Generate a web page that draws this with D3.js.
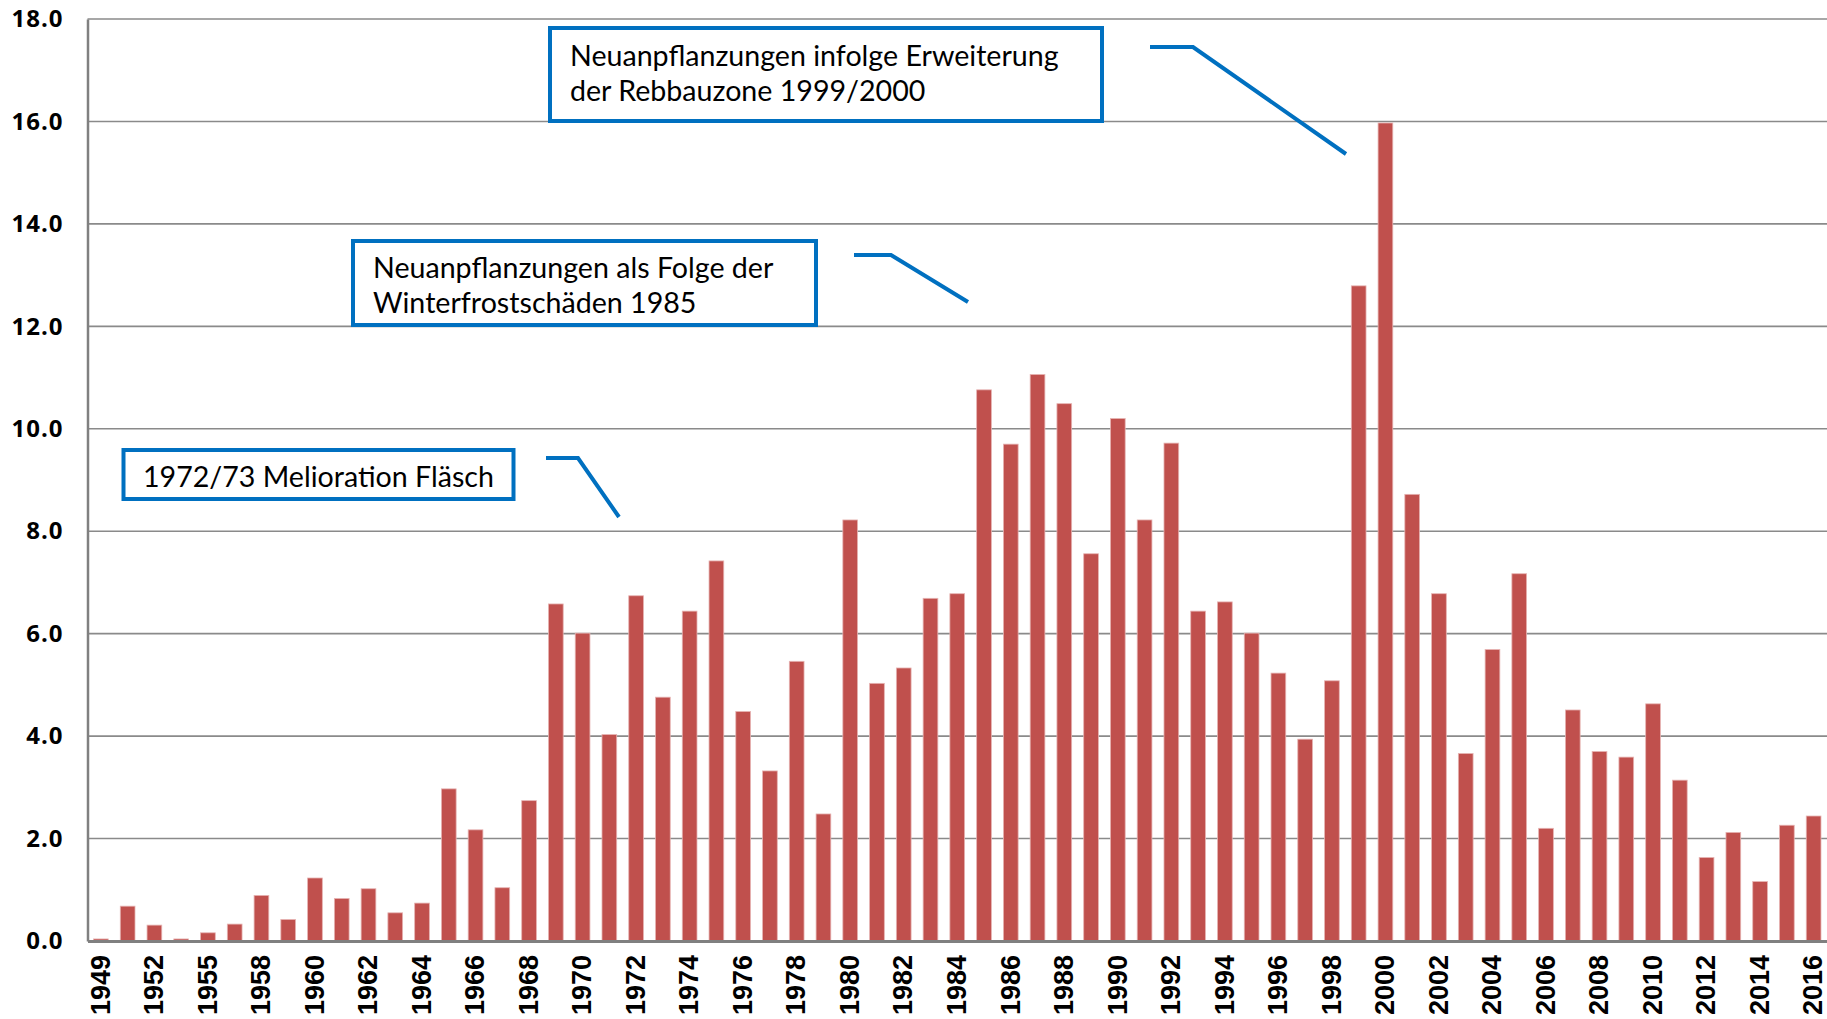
<!DOCTYPE html>
<html>
<head>
<meta charset="utf-8">
<script src="https://cdn.jsdelivr.net/npm/d3@7"></script>
<style>
  body { margin: 0; background: #fff; }
  .note text { font-family: Lato, "Open Sans", sans-serif; font-size: 28.6px; fill: #000; }
</style>
</head>
<body>
<div id="chart"></div>
<script>
// years on the x axis (three early periods have no printed label)
const years = [
  "1949", "1950/51", "1952", "1953/54", "1955", "1956/57",
  "1958", "1959", "1960", "1961", "1962", "1963", "1964", "1965", "1966", "1967",
  "1968", "1969", "1970", "1971", "1972", "1973", "1974", "1975", "1976", "1977",
  "1978", "1979", "1980", "1981", "1982", "1983", "1984", "1985", "1986", "1987",
  "1988", "1989", "1990", "1991", "1992", "1993", "1994", "1995", "1996", "1997",
  "1998", "1999", "2000", "2001", "2002", "2003", "2004", "2005", "2006", "2007",
  "2008", "2009", "2010", "2011", "2012", "2013", "2014", "2015", "2016",
];

// new plantings (ha) per year
const values = [
  0.04, 0.68, 0.31, 0.04, 0.16, 0.33,
  0.89, 0.42, 1.23, 0.83, 1.02, 0.55, 0.74, 2.97, 2.17, 1.04,
  2.74, 6.58, 6.01, 4.03, 6.74, 4.76, 6.44, 7.42, 4.48, 3.32,
  5.46, 2.48, 8.22, 5.03, 5.33, 6.69, 6.78, 10.76, 9.70, 11.06,
  10.49, 7.56, 10.20, 8.22, 9.72, 6.44, 6.62, 6.01, 5.23, 3.94,
  5.08, 12.79, 15.97, 8.72, 6.78, 3.66, 5.69, 7.17, 2.20, 4.51,
  3.70, 3.59, 4.63, 3.14, 1.63, 2.12, 1.16, 2.26, 2.44,
];

const yTicks = [0, 2, 4, 6, 8, 10, 12, 14, 16, 18];

const notes = [
  { lines: ["1972/73 Melioration Fläsch"] },
  { lines: ["Neuanpflanzungen als Folge der", "Winterfrostschäden 1985"] },
  { lines: ["Neuanpflanzungen infolge Erweiterung", "der Rebbauzone 1999/2000"] },
];

const W = 1827, H = 1019;
const margin = { top: 19, right: 0, bottom: 78, left: 87.5 };

const svg = d3.select("#chart").append("svg")
  .attr("width", W)
  .attr("height", H);

const x = d3.scaleBand()
  .domain(years)
  .range([margin.left, W - margin.right])
  .paddingInner(0.45)
  .paddingOuter(0.225);

const y = d3.scaleLinear()
  .domain([0, 18])
  .range([H - margin.bottom, margin.top]);

// grid lines
svg.append("g")
  .selectAll("line")
  .data(yTicks.slice(1))
  .join("line")
  .attr("x1", margin.left)
  .attr("x2", W - margin.right)
  .attr("y1", d => y(d))
  .attr("y2", d => y(d))
  .attr("stroke", "#8a8a8a")
  .attr("stroke-width", 1.6);

// bars
svg.append("g")
  .selectAll("rect")
  .data(values)
  .join("rect")
  .attr("x", (d, i) => x(years[i]))
  .attr("y", d => y(d))
  .attr("width", x.bandwidth())
  .attr("height", d => y(0) - y(d))
  .attr("fill", "#c0504d")
  .attr("stroke", "#e6b3b2")
  .attr("stroke-width", 0.8);

// y axis
const yAxis = svg.append("g")
  .attr("transform", `translate(${margin.left},0)`)
  .call(d3.axisLeft(y).tickValues(yTicks).tickFormat(d3.format(".1f")).tickSize(0).tickPadding(24));
yAxis.select(".domain").attr("stroke", "#808080").attr("stroke-width", 2.5);
yAxis.selectAll("text")
  .style("font-family", "'Open Sans', sans-serif")
  .style("font-weight", 700)
  .style("font-size", "24px")
  .style("letter-spacing", "1px")
  .attr("fill", "#000");

// x axis
const xAxis = svg.append("g")
  .attr("transform", `translate(0,${y(0)})`)
  .call(d3.axisBottom(x)
    .tickValues(years.filter((d, i) => i % 2 === 0))
    .tickSize(0));
xAxis.select(".domain").attr("stroke", "#808080").attr("stroke-width", 3);
xAxis.selectAll("text")
  .attr("transform", "rotate(-90)")
  .attr("x", -14)
  .attr("y", -1)
  .attr("dy", "0.36em")
  .style("text-anchor", "end")
  .style("font-family", "'Liberation Sans', Arial, sans-serif")
  .style("font-weight", 700)
  .style("font-size", "27px")
  .attr("fill", "#000");

// annotation boxes with leader lines
const layout = [
  { box: [123.5, 450, 390, 49], text: [143, 487], lead: [[546, 458], [578, 458], [619, 517]] },
  { box: [353, 241, 463, 84], text: [373, 278], lead: [[854, 255], [891, 255], [968, 302]] },
  { box: [550, 28, 552, 93], text: [570, 66], lead: [[1150, 47], [1193, 47], [1346, 154]] },
];

notes.forEach((n, i) => {
  const L = layout[i];
  const g = svg.append("g").attr("class", "note");
  g.append("rect")
    .attr("x", L.box[0]).attr("y", L.box[1])
    .attr("width", L.box[2]).attr("height", L.box[3])
    .attr("fill", "#fff")
    .attr("stroke", "#0070c0")
    .attr("stroke-width", 4);
  g.append("text")
    .selectAll("tspan")
    .data(n.lines)
    .join("tspan")
    .attr("x", L.text[0])
    .attr("y", (d, j) => L.text[1] + j * 35)
    .text(d => d);
  g.append("path")
    .attr("d", d3.line()(L.lead))
    .attr("fill", "none")
    .attr("stroke", "#0070c0")
    .attr("stroke-width", 4);
});
</script>
</body>
</html>
